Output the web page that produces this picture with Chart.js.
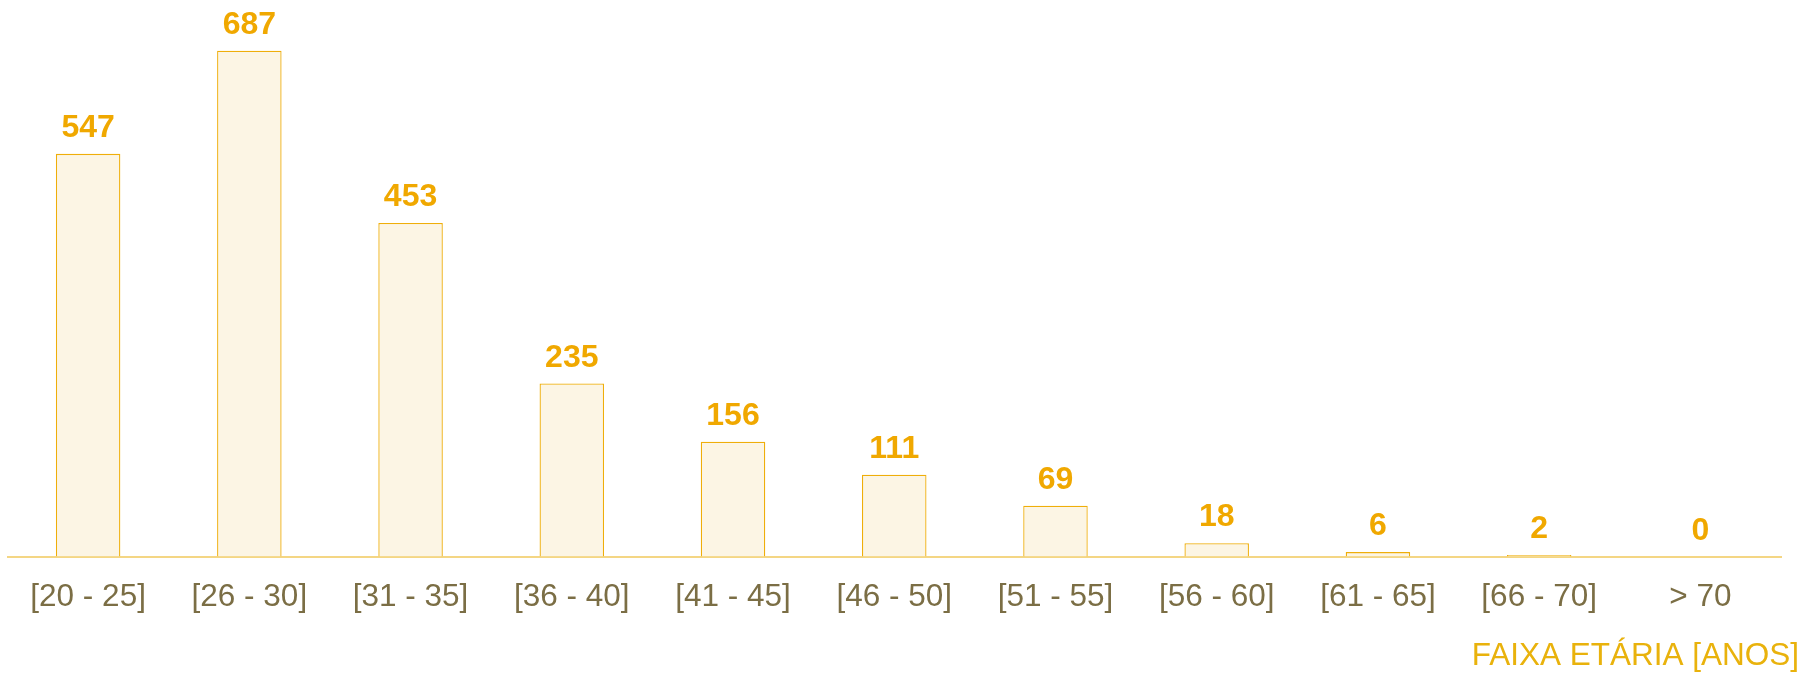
<!DOCTYPE html>
<html><head><meta charset="utf-8">
<script src="https://cdn.jsdelivr.net/npm/chart.js@4/dist/chart.umd.min.js"></script>
<style>html,body{margin:0;padding:0;background:#fff}#wrap{width:1818px;height:675px;position:relative}</style>
</head><body><div id="wrap"><canvas id="c"></canvas></div>
<script>
const categories = ['[20 - 25]', '[26 - 30]', '[31 - 35]', '[36 - 40]', '[41 - 45]', '[46 - 50]', '[51 - 55]', '[56 - 60]', '[61 - 65]', '[66 - 70]', '> 70'];
const values = [547, 687, 453, 235, 156, 111, 69, 18, 6, 2, 0];
const axisTitle = 'FAIXA ETÁRIA [ANOS]';
const yMin = 0;
const yMax = 756;

const FONT = '"Liberation Sans", Arial, sans-serif';

const valueLabels = {
  id: 'valueLabels',
  afterDatasetsDraw(chart) {
    const ctx = chart.ctx;
    const meta = chart.getDatasetMeta(0);
    ctx.save();
    ctx.font = 'bold 32px ' + FONT;
    ctx.fillStyle = '#f0a800';
    ctx.textAlign = 'center';
    ctx.textBaseline = 'alphabetic';
    meta.data.forEach((el, i) => {
      ctx.fillText(String(values[i]), el.x, el.y - 17);
    });
    ctx.restore();
  }
};

const cornerTitle = {
  id: 'cornerTitle',
  afterDraw(chart) {
    const ctx = chart.ctx;
    ctx.save();
    ctx.font = '31.5px ' + FONT;
    ctx.fillStyle = '#e9b20c';
    ctx.textAlign = 'right';
    ctx.textBaseline = 'alphabetic';
    ctx.fillText(axisTitle, chart.width - 19, 665);
    ctx.restore();
  }
};

new Chart(document.getElementById('c'), {
  type: 'bar',
  data: {
    labels: categories,
    datasets: [{
      data: values,
      backgroundColor: '#fcf5e4',
      borderColor: '#efae0a',
      borderWidth: 1.3,
      categoryPercentage: 1,
      barPercentage: 0.4
    }]
  },
  options: {
    responsive: true,
    maintainAspectRatio: false,
    devicePixelRatio: 1,
    animation: false,
    layout: { padding: { left: 7.5, right: 37, top: 0, bottom: 0 } },
    plugins: { legend: { display: false }, tooltip: { enabled: false }, title: { display: false } },
    scales: {
      x: {
        grid: { display: false, drawTicks: false },
        border: { display: true, color: '#f4d684', width: 2 },
        ticks: { color: '#7b6e45', font: { family: FONT, size: 31.5 }, padding: 22, maxRotation: 0, autoSkip: false },
        afterFit: s => { s.height = 118.5; }
      },
      y: { display: false, min: yMin, max: yMax }
    }
  },
  plugins: [valueLabels, cornerTitle]
});
</script>
</body></html>
